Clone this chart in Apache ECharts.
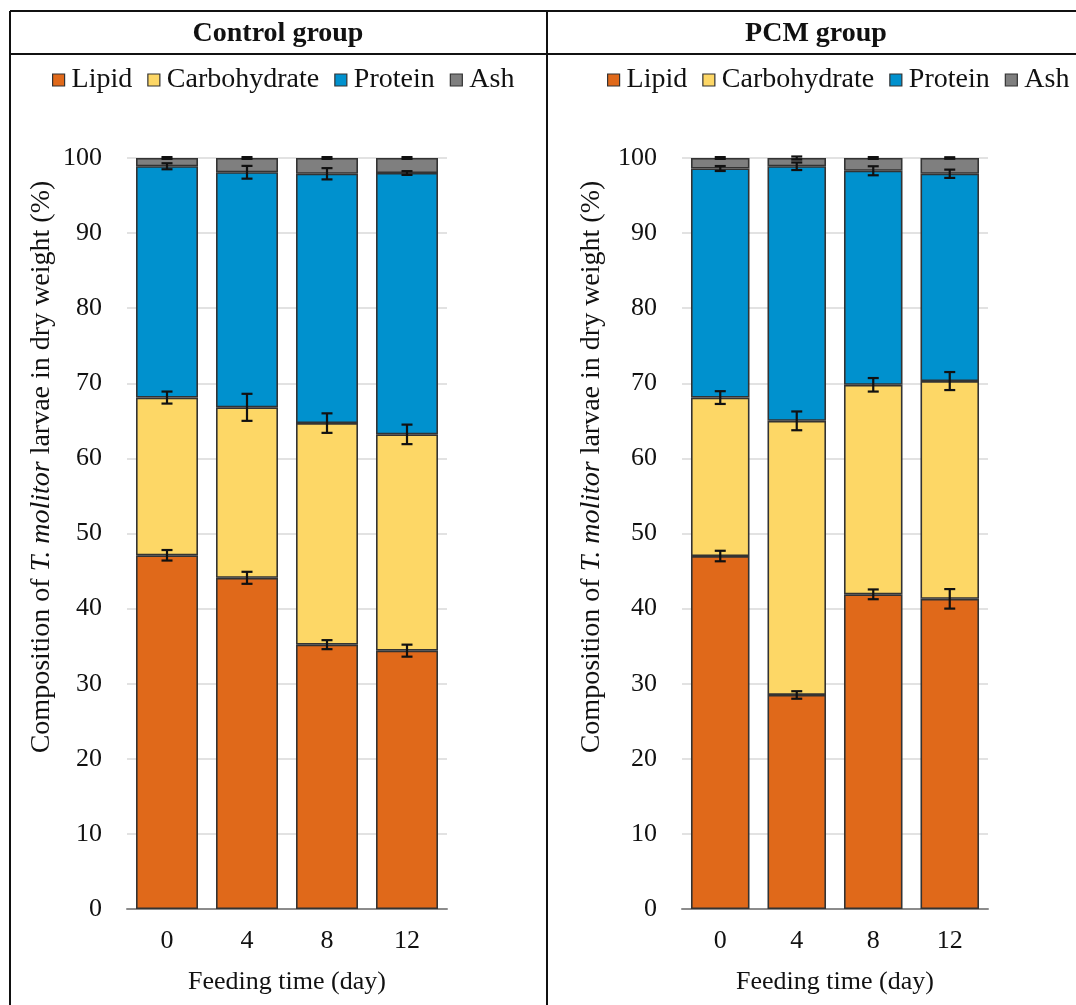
<!DOCTYPE html>
<html>
<head>
<meta charset="utf-8">
<script src="https://cdn.jsdelivr.net/npm/echarts@6/dist/echarts.min.js"></script>
<style>html,body{margin:0;padding:0;background:#fff;}#c{width:1076px;height:1005px;}</style>
</head>
<body>
<div id="c"></div>
<script>
var categories = ['0', '4', '8', '12'];
var componentNames = ['Lipid', 'Carbohydrate', 'Protein', 'Ash'];
var tickLabels = [0, 10, 20, 30, 40, 50, 60, 70, 80, 90, 100];

// Control group (segment sizes, % dry weight)
var controlLipid = [47.1, 44.1, 35.2, 34.4];
var controlCarb = [21.0, 22.7, 29.5, 28.8];
var controlProtein = [30.8, 31.3, 33.2, 34.8];
var controlAsh = [1.1, 1.9, 2.1, 2.0];
var controlLipidErr = [0.7, 0.8, 0.6, 0.8];
var controlCarbErr = [0.8, 1.8, 1.3, 1.3];
var controlProteinErr = [0.4, 0.85, 0.75, 0.25];
var controlAshErr = [0.12, 0.12, 0.12, 0.12];

// PCM group
var pcmLipid = [47.0, 28.5, 41.9, 41.3];
var pcmCarb = [21.1, 36.5, 27.9, 29.0];
var pcmProtein = [30.5, 33.9, 28.5, 27.6];
var pcmAsh = [1.4, 1.1, 1.7, 2.1];
var pcmLipidErr = [0.7, 0.5, 0.65, 1.3];
var pcmCarbErr = [0.85, 1.25, 0.9, 1.2];
var pcmProteinErr = [0.33, 0.5, 0.6, 0.55];
var pcmAshErr = [0.12, 0.2, 0.12, 0.1];

var colors = ['#E0691A', '#FDD766', '#0091CE', '#7F7F7F'];
var FONT = '"Liberation Serif", "DejaVu Serif", serif';

function barSeries(name, data, idx, color) {
  return {
    name: name, type: 'bar', stack: 'g' + idx, xAxisIndex: idx, yAxisIndex: idx,
    data: data, barWidth: idx === 0 ? '77.5%' : '76.5%',
    itemStyle: { color: color, borderColor: '#333333', borderWidth: 1.6 },
    emphasis: { disabled: true }, z: 2
  };
}

function errSeries(segs, errs, idx) {
  var pts = [];
  for (var i = 0; i < categories.length; i++) {
    var cum = 0;
    for (var s = 0; s < segs.length; s++) {
      cum += segs[s][i];
      pts.push([i, cum, errs[s][i]]);
    }
  }
  return {
    type: 'custom', xAxisIndex: idx, yAxisIndex: idx, data: pts, z: 10,
    renderItem: function (params, api) {
      var x = api.value(0), y = api.value(1), e = api.value(2);
      var hi = api.coord([x, y + e]);
      var lo = api.coord([x, y - e]);
      var cw = 5.5;
      var st = { stroke: '#111', lineWidth: 2.2 };
      return {
        type: 'group',
        children: [
          { type: 'line', shape: { x1: hi[0], y1: hi[1], x2: lo[0], y2: lo[1] }, style: st },
          { type: 'line', shape: { x1: hi[0] - cw, y1: hi[1], x2: hi[0] + cw, y2: hi[1] }, style: st },
          { type: 'line', shape: { x1: lo[0] - cw, y1: lo[1], x2: lo[0] + cw, y2: lo[1] }, style: st }
        ]
      };
    }
  };
}

function xAxis(idx) {
  return {
    type: 'category', gridIndex: idx, data: categories,
    name: 'Feeding time (day)', nameLocation: 'middle', nameGap: 60,
    nameTextStyle: { fontFamily: FONT, fontSize: 26, color: '#111' },
    axisLine: { lineStyle: { color: '#8c8c8c', width: 2 } },
    axisTick: { show: false },
    axisLabel: { fontFamily: FONT, fontSize: 26, color: '#111', margin: 19 }
  };
}
function yAxis(idx) {
  return {
    type: 'value', gridIndex: idx, min: 0, max: 100, interval: 10,
    axisLine: { show: false }, axisTick: { show: false },
    splitLine: { lineStyle: { color: '#d9d9d9', width: 1.5 } },
    axisLabel: { fontFamily: FONT, fontSize: 26, color: '#111', margin: 25,
      formatter: function (v) { return tickLabels.indexOf(v) >= 0 ? String(v) : ''; } }
  };
}

function yTitle(x, y) {
  return {
    type: 'text', x: x, y: y, rotation: Math.PI / 2,
    style: {
      text: 'Composition of {i|T. molitor} larvae in dry weight (%)',
      fontFamily: FONT, fontSize: 28, fill: '#111', align: 'center', verticalAlign: 'middle',
      rich: { i: { fontStyle: 'italic', fontFamily: FONT, fontSize: 28, fill: '#111' } }
    }
  };
}

var legendCommon = {
  data: componentNames, itemWidth: 12, itemHeight: 12, itemGap: 15,
  icon: 'rect', selectedMode: false, padding: 0, width: 500, orient: 'horizontal',
  textStyle: { fontFamily: FONT, fontSize: 28, color: '#111', padding: [0, 0, 0, 2] },
  itemStyle: { borderColor: '#333333', borderWidth: 1.2 }
};

var option = {
  animation: false,
  backgroundColor: '#fff',
  grid: [
    { left: 127, top: 158, width: 320, height: 751 },
    { left: 682, top: 158, width: 306, height: 751 }
  ],
  xAxis: [xAxis(0), xAxis(1)],
  yAxis: [yAxis(0), yAxis(1)],
  legend: [
    Object.assign({ left: 52, top: 66 }, legendCommon),
    Object.assign({ left: 607, top: 66 }, legendCommon)
  ],
  graphic: [
    { type: 'line', shape: { x1: 10, y1: 11, x2: 1076, y2: 11 }, style: { stroke: '#111', lineWidth: 2 } },
    { type: 'line', shape: { x1: 10, y1: 54, x2: 1076, y2: 54 }, style: { stroke: '#111', lineWidth: 2 } },
    { type: 'line', shape: { x1: 10, y1: 11, x2: 10, y2: 1005 }, style: { stroke: '#111', lineWidth: 2 } },
    { type: 'line', shape: { x1: 547, y1: 11, x2: 547, y2: 1005 }, style: { stroke: '#111', lineWidth: 2 } },
    { type: 'text', x: 278, y: 34, style: { text: 'Control group', fontFamily: FONT, fontWeight: 'bold', fontSize: 28, fill: '#111', align: 'center', verticalAlign: 'middle' } },
    { type: 'text', x: 816, y: 34, style: { text: 'PCM group', fontFamily: FONT, fontWeight: 'bold', fontSize: 28, fill: '#111', align: 'center', verticalAlign: 'middle' } },
    yTitle(42, 467),
    yTitle(592, 467)
  ],
  series: [
    barSeries('Lipid', controlLipid, 0, colors[0]),
    barSeries('Carbohydrate', controlCarb, 0, colors[1]),
    barSeries('Protein', controlProtein, 0, colors[2]),
    barSeries('Ash', controlAsh, 0, colors[3]),
    barSeries('Lipid', pcmLipid, 1, colors[0]),
    barSeries('Carbohydrate', pcmCarb, 1, colors[1]),
    barSeries('Protein', pcmProtein, 1, colors[2]),
    barSeries('Ash', pcmAsh, 1, colors[3]),
    errSeries([controlLipid, controlCarb, controlProtein, controlAsh], [controlLipidErr, controlCarbErr, controlProteinErr, controlAshErr], 0),
    errSeries([pcmLipid, pcmCarb, pcmProtein, pcmAsh], [pcmLipidErr, pcmCarbErr, pcmProteinErr, pcmAshErr], 1)
  ]
};

var chart = echarts.init(document.getElementById('c'), null, { renderer: 'canvas' });
chart.setOption(option);
</script>
</body>
</html>
